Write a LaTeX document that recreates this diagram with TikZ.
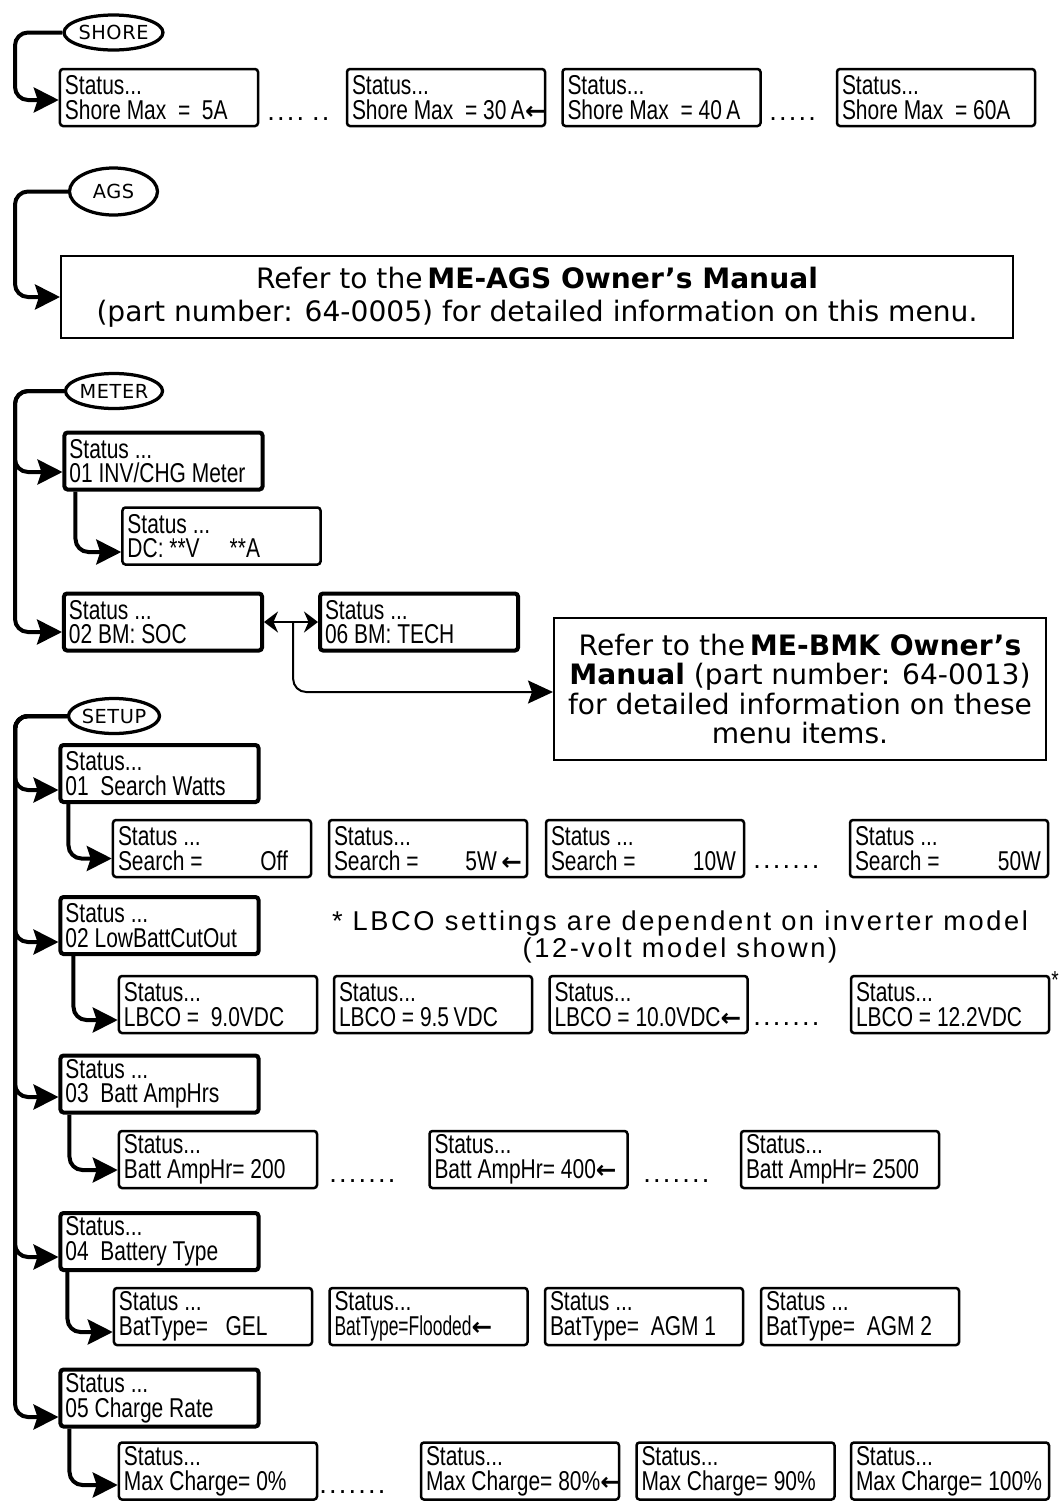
\documentclass[tikz,border=0pt]{standalone}
\usepackage{fontspec}
\usepackage{tikz}
\usetikzlibrary{arrows.meta,shapes.geometric,calc}
\setmainfont{Liberation Sans}
\newfontfamily\lcdfont[FakeStretch=0.77]{Liberation Sans}
\newfontfamily\lcdtight[FakeStretch=0.64]{Liberation Sans}
\newfontfamily\menufont[LetterSpace=3]{DejaVu Sans}
\newfontfamily\reffont{DejaVu Sans}
\newfontfamily\notefont[LetterSpace=9.5]{Liberation Sans}
\newfontfamily\dotfont[LetterSpace=8]{Liberation Sans}
\newfontfamily\arrowfont{DejaVu Sans}
% two lines of a display, left aligned
\newcommand{\lcd}[2]{\vbox{\hbox to 37.6mm{#1\hss}\hbox to 37.6mm{#2\hss}}}
\newcommand{\curarrow}{{\arrowfont\bfseries\fontsize{14}{14}\selectfont ←}}
\tikzset{
  lcdbox/.style={ draw, rounded corners=0.6mm, line width=0.5mm, minimum height=11.4mm, inner xsep=1mm, inner ysep=0pt, font=\lcdfont\fontsize{15.5}{14}\selectfont }
}
\tikzset{
  menubox/.style={ lcdbox, line width=0.8mm }
}
\tikzset{
  bubble/.style={ draw, ellipse, line width=0.65mm, minimum width=17.6mm, minimum height=7mm, inner sep=0pt, font=\menufont\fontsize{11}{11}\selectfont }
}
\tikzset{
  refbox/.style={ draw, line width=0.4mm, align=center, inner sep=0pt, font=\reffont\fontsize{16}{18.8}\selectfont }
}
\tikzset{
  note/.style={ align=center, inner sep=0pt, font=\notefont\fontsize{15.5}{15}\selectfont }
}
\tikzset{
  more/.style={ anchor=base west, inner sep=0pt, font=\dotfont\fontsize{15.5}{15.5}\selectfont }
}
\tikzset{
  feed/.style={ line width=0.8mm, rounded corners=2.6mm, -{Stealth[length=5mm, width=5mm, inset=0.8mm]} }
}
\tikzset{
  thinfeed/.style={ line width=0.4mm, rounded corners=2.6mm, -{Stealth[length=5mm, width=4.6mm, inset=0.8mm]} }
}
\tikzset{
  swap/.style={ line width=0.5mm, {Stealth[length=2.8mm, width=4.2mm]}-{Stealth[length=2.8mm, width=4.2mm]} }
}
\begin{document}
\begin{tikzpicture}[x=0.2mm, y=-0.2mm]
  \useasboundingbox (0,0) rectangle (1063,1501);
  \coordinate (rail) at (15,0);

  \node[bubble] (shore) at (113.5,32.5) {SHORE};
  \node[lcdbox] (sh5) at (159,97.5) {\lcd{Status...}{Shore Max \ = \ 5A}};
  \node[more] (shdotsa) at (267,120) {....\hspace{1.6mm}..};
  \node[lcdbox] (sh30) at (446,97.5) {\lcd{Status...}{Shore Max \ = 30\,A\curarrow}};
  \node[lcdbox] (sh40) at (661.5,97.5) {\lcd{Status...}{Shore Max \ = 40\,A}};
  \node[more] (shdotsb) at (769,120) {.....};
  \node[lcdbox] (sh60) at (936,97.5) {\lcd{Status...}{Shore Max \ = 60A}};

  \node[bubble, minimum height=9.4mm] (ags) at (113.5,191.5) {AGS};
  \node[refbox, minimum width=190.4mm, minimum height=16.4mm] (agsref) at (537,297) {Refer to the\,\textbf{ME-AGS Owner’s Manual}\\(part number: 64-0005) for detailed information on this menu.};

  \node[bubble] (meter) at (114,391) {METER};
  \node[menubox] (invchg) at (163.5,461) {\lcd{Status ...}{01 INV/CHG Meter}};
  \node[lcdbox] (dcmeter) at (221.5,536) {\lcd{Status ...}{DC: **V\hspace{6mm}**A}};
  \node[menubox] (bmsoc) at (163,622) {\lcd{Status ...}{02 BM: SOC}};
  \node[menubox] (bmtech) at (419,622) {\lcd{Status ...}{06 BM: TECH}};
  \node[refbox, minimum width=98.4mm, minimum height=28.4mm, font=\reffont\fontsize{16}{16.8}\selectfont] (bmkref) at (800,689) {Refer to the\,\textbf{ME-BMK Owner’s}\\\textbf{Manual} (part number: 64-0013)\\for detailed information on these\\menu items.};

  \node[bubble] (setup) at (114,716) {SETUP};
  \node[menubox] (search) at (159.5,773.5) {\lcd{Status...}{01\ \ Search Watts}};
  \node[lcdbox] (srchoff) at (212,848.5) {\lcd{Status ...}{Search =\hfill Off\hspace{3.6mm}}};
  \node[lcdbox] (srch5) at (428,848.5) {\lcd{Status...}{Search =\hfill 5W\,\curarrow}};
  \node[lcdbox] (srch10) at (645,848.5) {\lcd{Status ...}{Search =\hfill 10W\hspace{0.6mm}}};
  \node[more] (srchdots) at (753,868) {.......};
  \node[lcdbox] (srch50) at (949,848.5) {\lcd{Status ...}{Search =\hfill 50W\hspace{0.4mm}}};

  \node[menubox] (lowbatt) at (159.5,925.5) {\lcd{Status ...}{02 LowBattCutOut}};
  \node[note] (lbconote) at (680,937) {* LBCO settings are dependent on inverter model\\(12-volt model shown)};
  \node[lcdbox] (lbco90) at (218,1004.5) {\lcd{Status...}{LBCO = \ 9.0VDC}};
  \node[lcdbox] (lbco95) at (433,1004.5) {\lcd{Status...}{LBCO = 9.5\,VDC}};
  \node[lcdbox] (lbco100) at (648.5,1004.5) {\lcd{Status...}{LBCO = 10.0VDC\curarrow}};
  \node[more] (lbcodots) at (753,1025) {.......};
  \node[lcdbox] (lbco122) at (950,1004.5) {\lcd{Status...}{LBCO = 12.2VDC}};
  \node[inner sep=0pt, font=\lcdfont\fontsize{14}{14}\selectfont] (lbcostar) at (1055,980) {*};

  \node[menubox] (batthrs) at (159.5,1084) {\lcd{Status ...}{03\ \ Batt AmpHrs}};
  \node[lcdbox] (ahr200) at (218,1159.5) {\lcd{Status...}{Batt AmpHr= 200}};
  \node[more] (ahrdotsa) at (329,1182) {.......};
  \node[lcdbox] (ahr400) at (528.5,1159.5) {\lcd{Status...}{Batt AmpHr= 400\curarrow}};
  \node[more] (ahrdotsb) at (643,1182) {.......};
  \node[lcdbox] (ahr2500) at (840,1159.5) {\lcd{Status...}{Batt AmpHr= 2500}};

  \node[menubox] (battype) at (159.5,1241.5) {\lcd{Status...}{04\ \ Battery Type}};
  \node[lcdbox] (btgel) at (213,1316.5) {\lcd{Status ...}{BatType= \ \ GEL}};
  \node[lcdbox] (btflood) at (428.5,1316.5) {\lcd{Status...}{{\lcdtight BatType=Flooded}\curarrow}};
  \node[lcdbox] (btagm1) at (644,1316.5) {\lcd{Status ...}{BatType= \ AGM 1}};
  \node[lcdbox] (btagm2) at (860,1316.5) {\lcd{Status ...}{BatType= \ AGM 2}};

  \node[menubox] (chgrate) at (159.5,1398) {\lcd{Status ...}{05 Charge Rate}};
  \node[lcdbox] (mc0) at (218,1471) {\lcd{Status...}{Max Charge= 0\%}};
  \node[more] (mcdots) at (319,1493) {.......};
  \node[lcdbox] (mc80) at (520,1471) {\lcd{Status...}{Max Charge= 80\%\curarrow}};
  \node[lcdbox] (mc90) at (735.5,1471) {\lcd{Status...}{Max Charge= 90\%}};
  \node[lcdbox] (mc100) at (950,1471) {\lcd{Status...}{Max Charge= 100\%}};

  \draw[feed] (shore.west) -- (shore.west -| rail) |- ([yshift=-0.5mm]sh5.west);
  \draw[feed] (ags.west) -- (ags.west -| rail) |- (agsref.west);
  \draw[feed] (meter.west) -- (meter.west -| rail) |- ([yshift=-2.2mm]invchg.west);
  \draw[feed] (meter.west) -- (meter.west -| rail) |- ([yshift=-2mm]bmsoc.west);
  \draw[feed] ([xshift=2.6mm]invchg.south west) |- ([yshift=-3.2mm]dcmeter.west);
  \draw[swap] (bmsoc.east) -- (bmtech.west);
  \coordinate (bmfork) at ($(bmsoc.east)!0.54!(bmtech.west)$);
  \draw[thinfeed] (bmfork) |- ([yshift=-0.6mm]bmkref.west);

  \draw[feed] (setup.west) -- (setup.west -| rail) |- ([yshift=-3.3mm]search.west);
  \draw[feed] (setup.west) -- (setup.west -| rail) |- ([yshift=-3.3mm]lowbatt.west);
  \draw[feed] (setup.west) -- (setup.west -| rail) |- ([yshift=-2.6mm]batthrs.west);
  \draw[feed] (setup.west) -- (setup.west -| rail) |- ([yshift=-3.1mm]battype.west);
  \draw[feed] (setup.west) -- (setup.west -| rail) |- ([yshift=-3.8mm]chgrate.west);
  \draw[feed] ([xshift=2mm]search.south west) |- ([yshift=-2mm]srchoff.west);
  \draw[feed] ([xshift=3mm]lowbatt.south west) |- ([yshift=-3.1mm]lbco90.west);
  \draw[feed] ([xshift=2.2mm]batthrs.south west) |- ([yshift=-2.1mm]ahr200.west);
  \draw[feed] ([xshift=1.8mm]battype.south west) |- ([yshift=-3.1mm]btgel.west);
  \draw[feed] ([xshift=2.2mm]chgrate.south west) |- ([yshift=-2.8mm]mc0.west);
\end{tikzpicture}
\end{document}
